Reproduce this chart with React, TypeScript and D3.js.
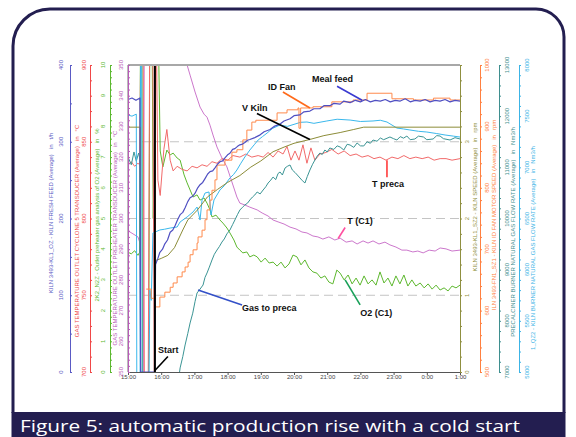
import { useEffect, useRef } from "react";
import * as d3 from "d3";

// time = hours after 15:00
type P = [number, number];

const mealFeed: P[] = [
  [0, 355], [0.12, 357], [0.24, 354], [0.36, 357], [0.38, 0], [0.8, 0], [0.83, 140], [0.9, 148], [0.96, 156],
  [1.04, 160], [1.11, 167], [1.19, 172], [1.27, 182], [1.35, 185], [1.42, 191], [1.5, 199], [1.57, 205],
  [1.65, 208], [1.72, 214], [1.8, 222], [1.87, 227], [1.95, 229], [2.02, 233], [2.1, 240], [2.17, 244],
  [2.25, 247], [2.32, 252], [2.4, 258], [2.47, 261], [2.55, 262], [2.62, 266], [2.7, 271], [2.77, 274],
  [2.85, 275], [2.92, 279], [3.0, 283], [3.07, 285], [3.15, 290], [3.22, 291], [3.3, 294], [3.37, 296],
  [3.45, 297], [3.52, 299], [3.6, 302], [3.67, 303], [3.8, 305], [3.98, 309], [4.1, 313], [4.28, 316],
  [4.4, 320], [4.58, 323], [4.7, 327], [4.88, 330], [5.0, 334], [5.18, 335], [5.3, 339], [5.48, 340],
  [5.6, 343], [5.78, 343], [5.9, 347], [6.08, 347], [6.2, 350], [6.39, 349], [6.5, 353], [6.69, 351],
  [6.85, 354], [7.0, 352], [7.15, 355], [7.3, 352], [7.45, 354], [7.6, 353], [7.75, 355], [7.9, 352],
  [8.05, 354], [8.2, 353], [8.35, 356], [8.5, 352], [8.65, 354], [8.8, 353], [8.95, 355], [9.1, 352],
  [9.25, 354], [9.4, 353], [9.55, 355], [9.7, 352], [9.85, 354], [10, 353],
];

const idFan: P[] = [
  [0.55, 635], [0.7, 620], [0.81, 606], [0.96, 622], [1.11, 630], [1.27, 638], [1.36, 645], [1.48, 655],
  [1.63, 663], [1.72, 671], [1.81, 679], [1.87, 691], [1.96, 699], [2.08, 710], [2.11, 720], [2.23, 731],
  [2.32, 748], [2.38, 764], [2.47, 780], [2.53, 796], [2.62, 813], [2.68, 837], [2.92, 845], [3.13, 858],
  [3.28, 862], [3.46, 878], [3.58, 894], [3.73, 907], [3.85, 910], [4.49, 922], [4.79, 927], [5.12, 930],
  [5.15, 897], [5.2, 930], [5.57, 932], [6.14, 940], [6.78, 943], [7.2, 954], [7.95, 945], [8.6, 943],
  [9.2, 946], [9.7, 943], [10, 943],
];

const vKiln: P[] = [
  [0, 3.19], [0.37, 3.19], [0.38, -0.5], [0.8, -0.5], [0.82, 1.45], [1.0, 1.48], [1.2, 1.52], [1.4, 1.62],
  [1.65, 1.85], [1.8, 1.98], [2.09, 2.11], [2.39, 2.28], [2.7, 2.38], [3.0, 2.47], [3.37, 2.56], [3.7, 2.67],
  [4.0, 2.75], [4.37, 2.87], [4.7, 2.93], [5.0, 2.98], [5.48, 3.03], [5.9, 3.08], [6.39, 3.12], [6.8, 3.16],
  [7.1, 3.19], [10, 3.19],
];

const kilnGas: P[] = [
  [0, 7511], [0.12, 7500], [0.25, 7520], [0.27, 4000], [0.36, 4000], [0.38, 8500], [0.41, 8500], [0.43, 4000],
  [0.6, 4000], [0.66, 5800], [0.7, 5700], [0.75, 6358], [0.96, 6388], [1.1, 6395],
  [1.27, 6407], [1.48, 6417], [1.57, 6466], [1.78, 6515], [1.96, 6564], [2.08, 6612], [2.17, 6485], [2.23, 6681],
  [2.32, 6749], [2.44, 6759], [2.5, 6534], [2.59, 6681], [2.77, 6779], [2.9, 6820], [3.07, 6896], [3.18, 6930],
  [3.28, 6974], [3.4, 7040], [3.52, 7101], [3.67, 7169], [3.8, 7220], [3.92, 7267], [4.05, 7300], [4.19, 7335],
  [4.35, 7380], [4.58, 7414], [4.8, 7400], [5.03, 7423], [5.2, 7440], [5.39, 7443], [5.6, 7430], [5.99, 7453],
  [6.3, 7470], [6.69, 7462], [7.0, 7448], [7.38, 7453], [7.6, 7460], [7.8, 7443], [8.1, 7384], [8.3, 7375],
  [8.49, 7365], [8.75, 7352], [9.0, 7345], [9.3, 7330], [9.55, 7316], [9.8, 7305], [10, 7296],
];

const preGas: P[] = [
  [0, 11200], [0.1, 11050], [0.18, 11300], [0.25, 11120], [0.32, 11280], [0.36, 11150], [0.38, 6500],
  [1.45, 6500], [1.57, 7080], [1.65, 7300], [1.72, 7528], [1.8, 7750], [1.87, 7958], [1.95, 8150],
  [2.02, 8380], [2.08, 8544], [2.17, 8620], [2.26, 8700], [2.32, 8850], [2.38, 8935], [2.45, 9050],
  [2.53, 9189], [2.6, 9300], [2.68, 9384], [2.75, 9450], [2.83, 9540], [2.9, 9600], [2.98, 9700],
  [3.07, 9775], [3.15, 9880], [3.22, 9971], [3.3, 10080], [3.37, 10166], [3.45, 10220], [3.52, 10264],
  [3.6, 10300], [3.67, 10362], [3.75, 10420], [3.82, 10460], [3.89, 10518], [3.98, 10480], [4.07, 10557],
  [4.15, 10620], [4.22, 10694], [4.3, 10750], [4.37, 10811], [4.45, 10760], [4.52, 10880], [4.58, 10909],
  [4.65, 10850], [4.73, 10987], [4.8, 11020], [4.88, 11046], [4.95, 10948], [5.03, 10900], [5.1, 10850],
  [5.18, 10792], [5.25, 10740], [5.33, 10694], [5.4, 10820], [5.48, 10948], [5.56, 11060], [5.63, 11143],
  [5.7, 11220], [5.78, 11280], [5.85, 11250], [5.93, 11339], [6.0, 11300], [6.08, 11378], [6.2, 11350],
  [6.3, 11420], [6.39, 11397], [6.5, 11339], [6.6, 11450], [6.69, 11436], [6.8, 11390], [6.9, 11476],
  [7.0, 11420], [7.1, 11417], [7.2, 11500], [7.3, 11470], [7.38, 11534], [7.5, 11510], [7.6, 11573],
  [7.7, 11540], [7.89, 11593], [8.0, 11560], [8.1, 11534], [8.2, 11600], [8.3, 11570], [8.4, 11612],
  [8.5, 11540], [8.64, 11554], [8.75, 11610], [8.9, 11593], [9.0, 11540], [9.19, 11554], [9.3, 11620],
  [9.4, 11612], [9.5, 11560], [9.7, 11534], [9.85, 11580], [10, 11554],
];

const tPreca: P[] = [
  [0, 835], [0.1, 837], [0.2, 834], [0.3, 836], [0.35, 835], [0.4, 950], [0.45, 950], [0.5, 650], [0.6, 650],
  [0.66, 950], [0.74, 950], [0.8, 650], [0.84, 950], [0.9, 825], [0.97, 815], [1.08, 845],
  [1.17, 858], [1.27, 838], [1.36, 831], [1.48, 834], [1.63, 832], [1.78, 831], [1.93, 834], [2.08, 833],
  [2.23, 835], [2.38, 834], [2.53, 837], [2.68, 836], [2.83, 839], [3.01, 838], [3.16, 841], [3.37, 840],
  [3.55, 842], [3.73, 840], [3.92, 841], [4.07, 840], [4.22, 843], [4.37, 840], [4.52, 844], [4.67, 842],
  [4.79, 847], [4.91, 838], [5.03, 844], [5.15, 838], [5.27, 848], [5.39, 836], [5.51, 846], [5.63, 838],
  [5.78, 842], [5.96, 843], [6.14, 845], [6.33, 842], [6.51, 844], [6.69, 841], [6.87, 842], [7.05, 840],
  [7.23, 841], [7.41, 839], [7.59, 840], [7.77, 838], [7.95, 840], [8.13, 839], [8.31, 841], [8.49, 839],
  [8.67, 840], [8.86, 839], [9.04, 840], [9.22, 838], [9.4, 839], [9.58, 839], [9.76, 838], [10, 839],
];

const tC1: P[] = [
  [0, 296], [0.15, 295], [0.3, 294], [0.36, 292], [0.4, 200], [0.45, 200], [0.5, 400], [1.7, 400],
  [1.78, 350], [1.87, 346.7], [2.02, 341.2], [2.17, 336.3], [2.29, 334], [2.38, 333], [2.47, 330.4],
  [2.56, 327.2], [2.68, 323.3], [2.83, 319.7], [2.98, 316.8], [3.13, 311.9], [3.28, 307], [3.37, 305],
  [3.52, 304.4], [3.67, 303.7], [3.89, 302.8], [4.04, 301.8], [4.22, 300.8], [4.37, 299.5], [4.52, 298.9],
  [4.7, 298.2], [4.88, 297.2], [5.06, 296.6], [5.24, 295.6], [5.39, 295.3], [5.57, 294.3], [5.72, 294],
  [5.87, 293.3], [6.05, 294], [6.23, 293], [6.39, 293.6], [6.57, 292.3], [6.75, 292.7], [6.9, 291.7],
  [7.08, 292.7], [7.23, 292], [7.38, 292.7], [7.56, 291.7], [7.74, 292.3], [7.89, 291.4], [8.07, 290.7],
  [8.25, 289.7], [8.4, 289.7], [8.58, 289.1], [8.73, 289.4], [8.89, 288.8], [9.07, 289.7], [9.25, 289.4],
  [9.4, 290.4], [9.58, 290.1], [9.76, 289.4], [10, 289.7],
];

const o2: P[] = [
  [0, 3.9], [0.1, 3.85], [0.2, 3.95], [0.3, 3.8], [0.35, 3.9], [0.38, 12], [0.42, 12], [0.44, -1],
  [0.62, -1], [0.66, 12], [0.72, 12], [0.76, 5], [0.86, 12], [0.9, 12], [0.97, 7.2],
  [1.05, 6.68], [1.17, 7.23], [1.27, 7.07], [1.36, 7.13], [1.48, 6.97], [1.57, 6.9], [1.69, 6.42], [1.78, 6.16],
  [1.87, 5.93], [1.96, 5.7], [2.08, 5.77], [2.17, 5.6], [2.29, 5.67], [2.38, 5.5], [2.47, 5.28], [2.53, 5.05],
  [2.65, 5.11], [2.77, 4.95], [2.86, 4.85], [2.98, 4.69], [3.07, 4.53], [3.19, 4.3], [3.28, 4.07], [3.37, 3.97],
  [3.46, 3.88], [3.58, 3.91], [3.67, 3.75], [3.79, 3.81], [3.89, 3.75], [4.01, 3.58], [4.13, 3.71], [4.25, 3.55],
  [4.37, 3.58], [4.49, 3.45], [4.61, 3.58], [4.73, 3.39], [4.85, 3.52], [4.97, 3.81], [5.09, 3.75], [5.21, 3.49],
  [5.33, 3.65], [5.45, 3.39], [5.57, 3.26], [5.69, 3.22], [5.81, 3.06], [5.93, 3.13], [6.05, 2.93], [6.17, 2.87],
  [6.29, 3.32], [6.39, 3.22], [6.51, 3.0], [6.63, 3.16], [6.75, 2.87], [6.87, 3.06], [6.99, 2.83], [7.11, 3.13],
  [7.23, 2.87], [7.35, 3.0], [7.47, 2.83], [7.59, 3.26], [7.71, 2.9], [7.83, 3.06], [7.95, 2.8], [8.07, 3.13],
  [8.19, 2.87], [8.31, 3.16], [8.43, 2.8], [8.55, 3.0], [8.67, 2.8], [8.8, 2.9], [8.92, 2.74], [9.04, 2.87],
  [9.16, 2.7], [9.28, 2.83], [9.4, 2.67], [9.52, 2.74], [9.64, 2.64], [9.76, 2.8], [9.88, 2.74], [10, 2.83],
];

const startTime = 0.81;
const gridLevels = [1, 2, 3];
const hourSpan = 10;
const caption = "Figure 5: automatic production rise with a cold start";

const axes = [
  { key: "feed", side: "left", x: 70, domain: [0, 400], step: 100, minor: 50, lab: 61, tit: 51, ty: 213, color: "#5a5ac4",
    title: "KILN 3493-KL1_OZ - KILN FRESH FEED (Average)   in   t/h" },
  { key: "tpreca", side: "left", x: 90, domain: [700, 900], step: 50, minor: 10, lab: 84, tit: 77, ty: 231, color: "#f04848",
    title: "GAS TEMPERATURE OUTLET CYCLONE 5 TRANSDUCER (Average)   in   °C" },
  { key: "o2", side: "left", x: 110, domain: [0, 10], step: 1, minor: 0.2, lab: 103, tit: 97, ty: 215, color: "#5cb830",
    title: "2K2_N2Z - Outlet preheater gas analysis of O2 (Average)   in   %" },
  { key: "tc1", side: "left", x: 128, domain: [250, 350], step: 10, minor: 2, lab: 121, tit: 115, ty: 238, color: "#b85cb8",
    title: "GAS TEMPERATURE OUTLET PREHEATER TRANSDUCER (Average)   in   °C" },
  { key: "vkiln", side: "right", x: 460, domain: [0, 4], step: 1, minor: 0.2, lab: 467, tit: 475, ty: 197, color: "#8f8f40",
    title: "KILN 3493-KL1_SZ2 - KILN SPEED (Average)   in   rpm", labelMax: 3 },
  { key: "idfan", side: "right", x: 480, domain: [500, 1000], step: 100, minor: 20, lab: 487, tit: 494, ty: 215, color: "#ff8040",
    title: "ILN 3493-FN1_SZ1 - KILN ID FAN MOTOR SPEED (Average)   in   rpm" },
  { key: "pregas", side: "right", x: 499, domain: [7000, 13000], step: 1000, minor: 200, lab: 507, tit: 513, ty: 232, color: "#3f8f8f",
    title: "PRECALCINER BURNER NATURAL GAS FLOW RATE (Average)   in   Nm3/h" },
  { key: "kilngas", side: "right", x: 519, domain: [5000, 8000], step: 500, minor: 100, lab: 527, tit: 533, ty: 248, color: "#3cb4e6",
    title: "1_QZ2 - KILN BURNER NATURAL GAS FLOW RATE (Average)   in   Nm3/h" },
];

const series = [
  { data: tC1, key: "tc1", color: "#cc77cc", w: 1 },
  { data: o2, key: "o2", color: "#5db82e", w: 1 },
  { data: tPreca, key: "tpreca", color: "#f26a6a", w: 1 },
  { data: preGas, key: "pregas", color: "#3a9494", w: 1 },
  { data: kilnGas, key: "kilngas", color: "#3ab8ec", w: 1 },
  { data: vKiln, key: "vkiln", color: "#8c8c38", w: 1 },
  { data: idFan, key: "idfan", color: "#ff8a4c", w: 1, step: true },
  { data: mealFeed, key: "feed", color: "#4f4fc2", w: 1.2 },
];

const annotations = [
  { text: "Meal feed", key: "feed", t: 7.05, v: 354, from: [-25, -14], label: [-50, -18], color: "#3a3ad0" },
  { text: "ID Fan", key: "idfan", t: 5.48, v: 930, from: [-27, -16], label: [-42, -18], color: "#ff6a1a" },
  { text: "V Kiln", key: "vkiln", t: 5.48, v: 3.03, from: [-53, -26], label: [-68, -28], color: "#000" },
  { text: "T preca", key: "tpreca", t: 7.8, v: 838, from: [0, 17], label: [-15, 27], color: "#ff3b3b" },
  { text: "T (C1)", key: "tc1", t: 6.33, v: 293.5, from: [7, -11], label: [9, -14], color: "#ff4fa0" },
  { text: "O2 (C1)", key: "o2", t: 6.54, v: 3.0, from: [15, 25], label: [15, 36], color: "#18a058" },
  { text: "Gas to preca", key: "pregas", t: 2.11, v: 8603, from: [44, 15], label: [44, 21], color: "#3350c8" },
  { text: "Start", key: "vkiln", t: 0.81, v: 0.02, from: [13, -14], label: [3, -17], color: "#000" },
];

const W = 576, H = 437;
const plot = { left: 128, right: 460, top: 65, bottom: 372 };
const base = new Date(2000, 0, 1, 15, 0, 0).getTime();
const toDate = (h: number) => new Date(base + h * 3600000);

const steps = (d: number[], step: number) => {
  const n = Math.round((d[1] - d[0]) / step);
  return d3.range(n + 1).map((i) => +(d[0] + i * step).toFixed(4));
};

export default function App() {
  const ref = useRef<SVGSVGElement>(null);

  useEffect(() => {
    const svg = d3.select(ref.current);
    svg.selectAll("*").remove();
    const font = "Arial, 'Liberation Sans', sans-serif";

    const x = d3.scaleTime().domain([toDate(0), toDate(hourSpan)]).range([plot.left, plot.right]);
    const ys: Record<string, d3.ScaleLinear<number, number>> = {};
    axes.forEach((a) => (ys[a.key] = d3.scaleLinear().domain(a.domain).range([plot.bottom, plot.top])));

    svg.append("rect").attr("width", W).attr("height", H).attr("fill", "#fff");

    // frame
    svg.append("path")
      .attr("d", "M13,413 V46 A37,37 0 0 1 50,9 H536 A28,28 0 0 1 564,37 V413")
      .attr("fill", "none").attr("stroke", "#231e50").attr("stroke-width", 3);
    svg.append("rect").attr("x", 11.5).attr("y", 412).attr("width", 554).attr("height", 25).attr("fill", "#231e50");
    svg.append("text").attr("x", 20).attr("y", 432).text(caption)
      .attr("fill", "#fff").attr("font-size", 16).attr("font-family", "'Open Sans', 'Noto Sans', sans-serif")
      .attr("textLength", 500).attr("lengthAdjust", "spacingAndGlyphs");

    svg.append("defs").append("clipPath").attr("id", "pc").append("rect")
      .attr("x", plot.left).attr("y", plot.top).attr("width", plot.right - plot.left).attr("height", plot.bottom - plot.top);

    // dashed grid
    svg.append("g").selectAll("line").data(gridLevels).join("line")
      .attr("x1", plot.left).attr("x2", plot.right)
      .attr("y1", (d) => ys.vkiln(d)).attr("y2", (d) => ys.vkiln(d))
      .attr("stroke", "#c4c4c4").attr("stroke-width", 1).attr("stroke-dasharray", "9 5");

    // series
    const lines = svg.append("g").attr("clip-path", "url(#pc)");
    series.forEach((s) => {
      const y = ys[s.key];
      const gen = d3.line<P>().x((d) => x(toDate(d[0]))).y((d) => y(d[1]))
        .curve(s.step ? d3.curveStepAfter : d3.curveLinear);
      lines.append("path").attr("d", gen(s.data) || "").attr("fill", "none")
        .attr("stroke", s.color).attr("stroke-width", s.w).attr("stroke-linejoin", "round");
    });

    // start marker
    svg.append("line").attr("x1", x(toDate(startTime))).attr("x2", x(toDate(startTime)))
      .attr("y1", plot.top).attr("y2", plot.bottom).attr("stroke", "#000").attr("stroke-width", 2);

    // plot frame
    svg.append("line").attr("x1", plot.left).attr("x2", plot.right).attr("y1", plot.top).attr("y2", plot.top)
      .attr("stroke", "#a8a8a8").attr("stroke-width", 2);
    svg.append("line").attr("x1", plot.left).attr("x2", plot.left).attr("y1", plot.top).attr("y2", plot.bottom)
      .attr("stroke", "#777").attr("stroke-width", 1);

    // x axis
    const xg = svg.append("g").attr("transform", `translate(0,${plot.bottom})`);
    xg.call(d3.axisBottom(x).ticks(d3.timeMinute.every(10)).tickSize(2).tickSizeOuter(0).tickFormat(() => ""));
    xg.call(d3.axisBottom(x).ticks(d3.timeHour.every(1)).tickSize(3).tickSizeOuter(0)
      .tickFormat((d) => d3.timeFormat("%-H:%M")(d as Date)));
    xg.selectAll("line,path").attr("stroke", "#555");
    xg.selectAll("text").attr("font-size", 6).attr("font-family", font).attr("fill", "#444").attr("dy", "0.6em").attr("y", 3);

    // y axes
    axes.forEach((a) => {
      const y = ys[a.key];
      const g = svg.append("g").attr("transform", `translate(${a.x},0)`);
      const majors = steps(a.domain, a.step);
      const minors = steps(a.domain, a.minor);
      const left = a.side === "left";
      g.call((left ? d3.axisLeft(y) : d3.axisRight(y)).tickValues(majors).tickSize(4).tickSizeOuter(0).tickFormat(() => ""));
      g.call(d3.axisRight(y).tickValues(minors).tickSize(2).tickSizeOuter(0).tickFormat(() => ""));
      g.selectAll("line,path").attr("stroke", a.color);
      g.selectAll(".domain").attr("stroke-width", 1);
      const labelled = majors.filter((v) => a.labelMax === undefined || v <= a.labelMax);
      svg.append("g").selectAll("text").data(labelled).join("text")
        .attr("transform", (v) => `translate(${a.lab},${y(v)}) rotate(-90)`)
        .attr("text-anchor", "middle").attr("dominant-baseline", "central")
        .attr("font-size", 6).attr("font-family", font).attr("fill", a.color).text((v) => String(v));
      svg.append("text").attr("transform", `translate(${a.tit},${a.ty}) rotate(-90)`)
        .attr("text-anchor", "middle").attr("dominant-baseline", "central").attr("xml:space", "preserve")
        .attr("font-size", 6).attr("font-family", font).attr("fill", a.color).text(a.title);
    });

    // annotations
    annotations.forEach((n) => {
      const tx = x(toDate(n.t));
      const ty = ys[n.key](n.v);
      svg.append("line").attr("x1", tx).attr("y1", ty).attr("x2", tx + n.from[0]).attr("y2", ty + n.from[1])
        .attr("stroke", n.color).attr("stroke-width", 1.6);
      svg.append("text").attr("x", tx + n.label[0]).attr("y", ty + n.label[1]).text(n.text)
        .attr("font-size", 9).attr("font-weight", "bold").attr("font-family", font).attr("fill", "#111");
    });
  }, []);

  return <svg ref={ref} width={W} height={H} style={{ position: "absolute", left: 0, top: 0 }} />;
}
